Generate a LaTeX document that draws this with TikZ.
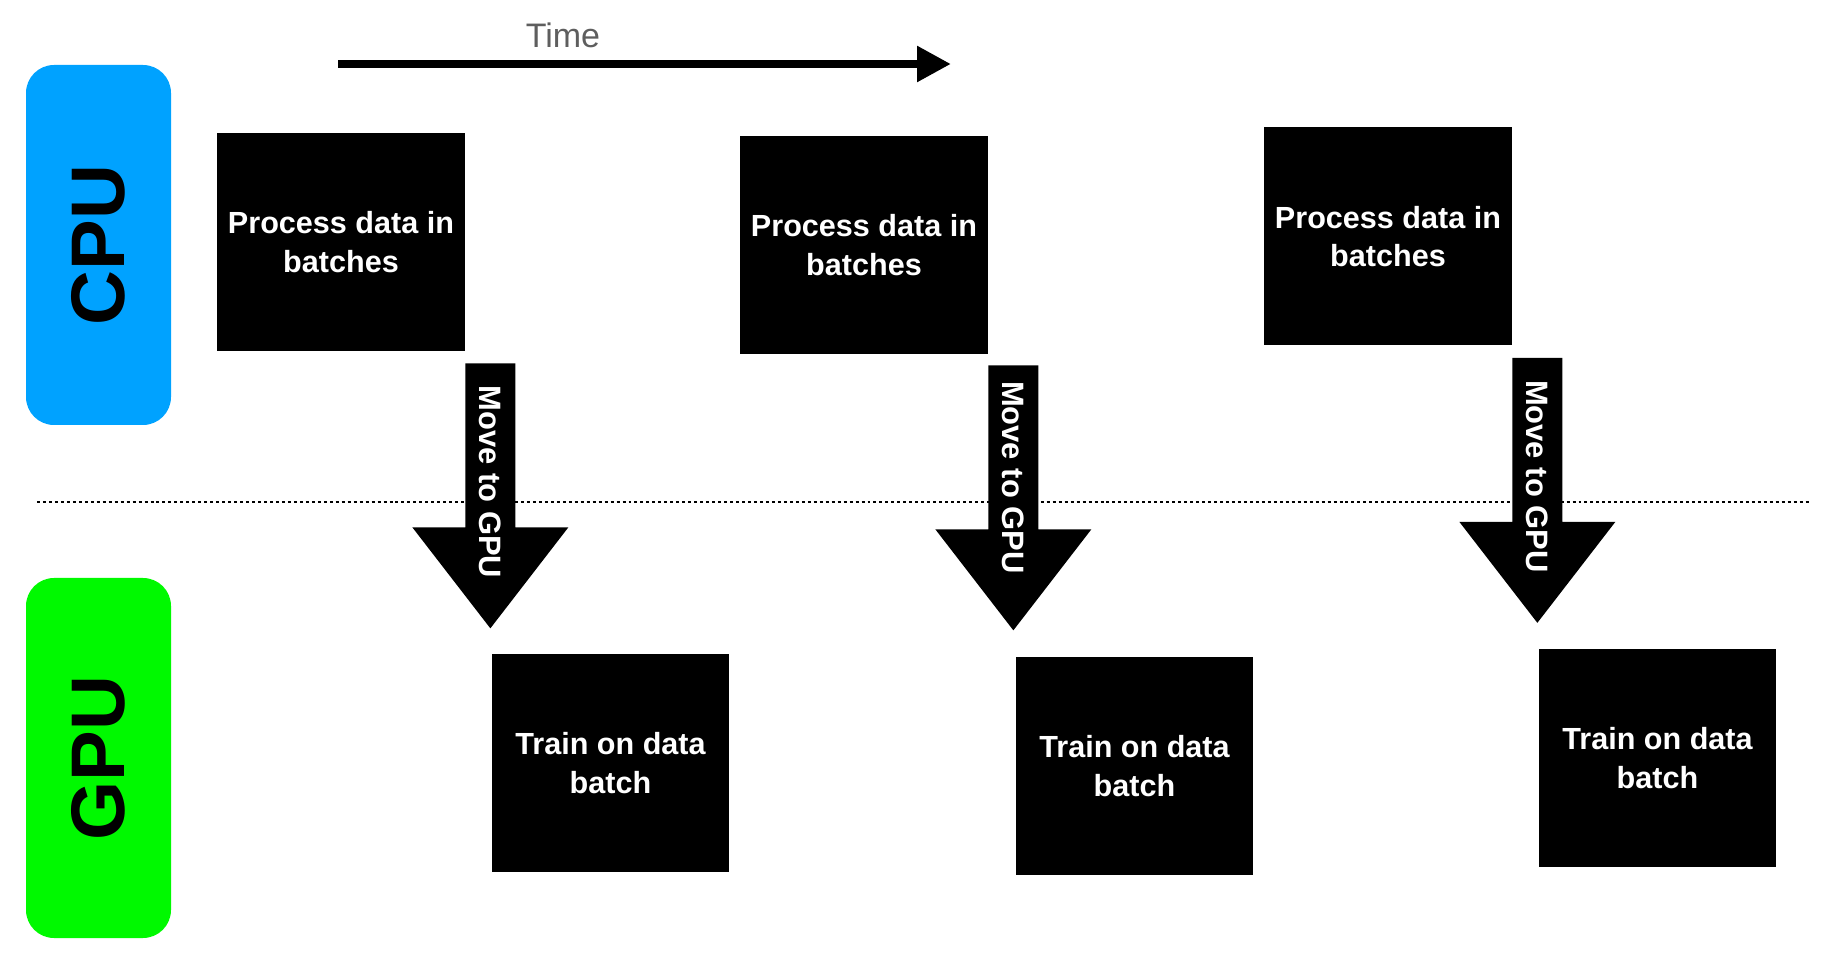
\documentclass[tikz,border=0pt]{standalone}
\usepackage{fontspec}
\setmainfont{Liberation Sans}
\usetikzlibrary{arrows.meta}

\definecolor{cpublue}{HTML}{00A2FF}
\definecolor{gpugreen}{HTML}{00F900}
\definecolor{timegray}{HTML}{5E5E5E}

\tikzset{
  unit/.style={fill=#1, rounded corners=0.56cm, rotate=90, minimum width=7.2cm, minimum height=2.9cm, font=\bfseries\fontsize{43.25}{50}\selectfont},
  task/.style={fill=black, text=white, align=center, minimum height=4.36cm, font=\bfseries\fontsize{17.4}{22}\selectfont},
  movetext/.style={rotate=-90, text=white, inner sep=0pt, font=\bfseries\fontsize{17.6}{22}\selectfont},
  timearrow/.style={line width=5.1pt, -{Triangle[length=0.68cm, width=0.68cm]}},
}

\begin{document}
\begin{tikzpicture}
            \useasboundingbox (0,0) rectangle (36.68,-19.18);

            \node (cpu) [unit=cpublue] at (1.97,-4.9) {CPU};
            \node (gpu) [unit=gpugreen] at (1.97,-15.16) {GPU};

            % time axis
            \coordinate (tstart) at (6.76,-1.28);
            \coordinate (tend) at (19.02,-1.28);
            \draw [timearrow] (tstart) -- (tend);
            \node (time) [anchor=base, text=timegray, font=\fontsize{19.35}{22}\selectfont] at (11.26,-0.96) {Time};

            \node (p1) [task, minimum width=4.96cm] at (6.82,-4.84) {Process data in\\batches};
            \node (p2) [task, minimum width=4.96cm] at (17.28,-4.90) {Process data in\\batches};
            \node (p3) [task, minimum width=4.96cm] at (27.76,-4.73) {Process data in\\batches};

            \node (t1) [task, minimum width=4.74cm] at (12.21,-15.26) {Train on data\\batch};
            \node (t2) [task, minimum width=4.74cm] at (22.69,-15.32) {Train on data\\batch};
            \node (t3) [task, minimum width=4.74cm] at (33.15,-15.16) {Train on data\\batch};

            % block arrows CPU -> GPU
            \coordinate (a1) at ([shift={(0.5,-0.24)}]p1.south east);
            \coordinate (a2) at ([shift={(0.5,-0.22)}]p2.south east);
            \coordinate (a3) at ([shift={(0.5,-0.24)}]p3.south east);
            \fill ([xshift=-0.5cm]a1) -- ++(0,-3.28) -- ++(-1.06,0) -- ([yshift=-5.3cm]a1) -- ++(1.56,2.02) -- ++(-1.06,0) -- ++(0,3.28) -- cycle;
            \fill ([xshift=-0.5cm]a2) -- ++(0,-3.28) -- ++(-1.06,0) -- ([yshift=-5.3cm]a2) -- ++(1.56,2.02) -- ++(-1.06,0) -- ++(0,3.28) -- cycle;
            \fill ([xshift=-0.5cm]a3) -- ++(0,-3.28) -- ++(-1.06,0) -- ([yshift=-5.3cm]a3) -- ++(1.56,2.02) -- ++(-1.06,0) -- ++(0,3.28) -- cycle;
            \node (m1) [movetext] at ([yshift=-2.37cm]a1) {Move to GPU};
            \node (m2) [movetext] at ([yshift=-2.24cm]a2) {Move to GPU};
            \node (m3) [movetext] at ([yshift=-2.37cm]a3) {Move to GPU};

            % CPU / GPU border
            \coordinate (bl) at (0.74,-10.04);
            \coordinate (br) at (36.22,-10.04);
            \draw [line width=1.14pt, dash pattern=on 1.7pt off 1.7pt] (bl) -- (br);

        \end{tikzpicture}
\end{document}
